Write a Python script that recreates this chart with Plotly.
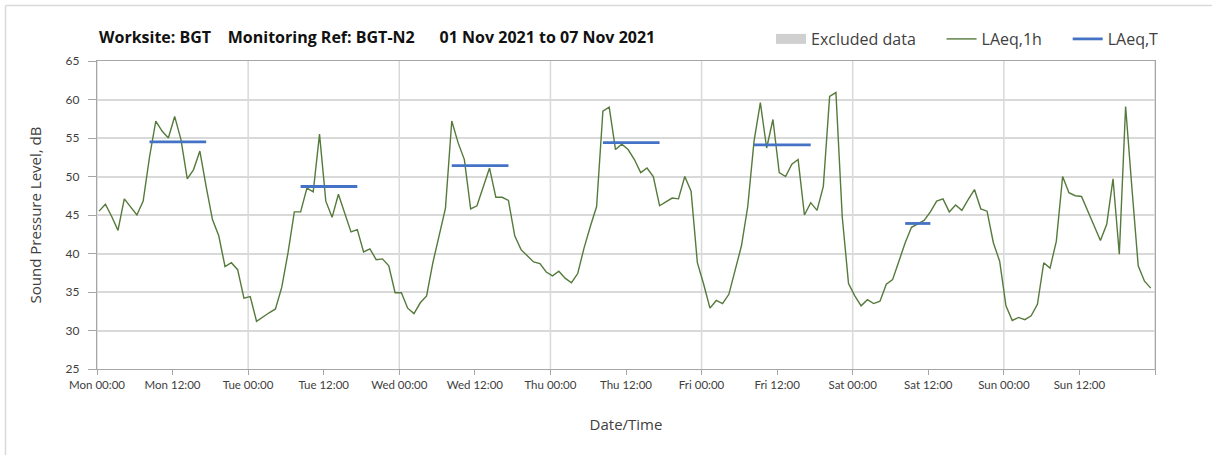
import plotly.graph_objects as go
import pandas as pd

# ---------------- data ----------------
period_start = "2021-11-01 00:00"
n_days = 7
sample_offset_minutes = 20

laeq_1h = [
    45.5, 46.4, 44.8, 43.0, 47.1, 46.1, 45.0, 46.8, 52.5, 57.2, 55.9, 55.0,
    57.8, 54.8, 49.7, 50.9, 53.3, 48.7, 44.4, 42.3, 38.3, 38.8, 37.9, 34.2,
    34.4, 31.2, 31.8, 32.3, 32.8, 35.6, 40.1, 45.4, 45.4, 48.5, 48.0, 55.5,
    46.8, 44.7, 47.7, 45.3, 42.8, 43.1, 40.2, 40.6, 39.2, 39.3, 38.4, 34.9,
    34.9, 32.9, 32.2, 33.6, 34.5, 38.8, 42.5, 45.9, 57.2, 54.4, 52.2, 45.8,
    46.2, 48.7, 51.1, 47.3, 47.3, 46.9, 42.3, 40.5, 39.7, 38.9, 38.7, 37.6,
    37.1, 37.7, 36.8, 36.2, 37.4, 40.7, 43.5, 46.1, 58.5, 59.0, 53.5, 54.2,
    53.5, 52.2, 50.5, 51.1, 50.0, 46.2, 46.7, 47.2, 47.1, 50.0, 48.1, 38.8,
    36.0, 32.9, 33.9, 33.5, 34.7, 37.7, 41.0, 46.1, 54.6, 59.6, 53.7, 57.4,
    50.5, 50.0, 51.6, 52.2, 45.0, 46.6, 45.6, 48.7, 60.4, 60.9, 44.8, 36.1,
    34.5, 33.2, 34.0, 33.5, 33.8, 36.0, 36.6, 39.0, 41.4, 43.4, 43.9, 44.3,
    45.4, 46.8, 47.1, 45.4, 46.3, 45.6, 47.0, 48.3, 45.8, 45.5, 41.4, 39.0,
    33.2, 31.3, 31.7, 31.4, 31.9, 33.4, 38.8, 38.1, 41.6, 50.0, 47.9, 47.5,
    47.4, 45.5, 43.5, 41.7, 43.8, 49.7, 39.9, 59.1, 48.5, 38.4, 36.4, 35.5,
]

# LAeq,T per day (Mon..Sun) and the hour window it is drawn across
laeq_T = [54.5, 48.7, 51.4, 54.4, 54.1, 43.9, None]
laeq_T_first_hour = [8, 8, 8, 8, 8, 8, None]
laeq_T_last_hour = [17, 17, 17, 17, 17, 12, None]

title_parts = ["Worksite: BGT", "Monitoring Ref: BGT-N2", "01 Nov 2021 to 07 Nov 2021"]
y_title = "Sound Pressure Level, dB"
x_title = "Date/Time"
legend_names = ["Excluded data", "LAeq,1h", "LAeq,T"]

# ---------------- build ----------------
t0 = pd.Timestamp(period_start)
t_end = t0 + pd.Timedelta(days=n_days)
times = [t0 + pd.Timedelta(hours=i, minutes=sample_offset_minutes) for i in range(len(laeq_1h))]

bx, by = [], []
for d, v in enumerate(laeq_T):
    if v is None:
        continue
    for h in range(laeq_T_first_hour[d], laeq_T_last_hour[d] + 1):
        idx = d * 24 + h
        bx.append(times[idx])
        by.append(v)
    bx.append(None)
    by.append(None)

tick_times = [t0 + pd.Timedelta(hours=12 * k) for k in range(n_days * 2 + 1)]
tick_text = [t.strftime("%a %H:%M") for t in tick_times[:-1]] + [""]
day_lines = [t0 + pd.Timedelta(days=d) for d in range(n_days + 1)]

W, H = 1212, 455
ML, MR, MT, MB = 97, 57, 61, 86
pw, ph = W - ML - MR, H - MT - MB

FONT = "Open Sans"
TICKFONT = "Lato"
GREEN = "#557a3c"
BLUE = "#4472c4"
GREY_EX = "#d0d0d0"
GRID = "#d9d9d9"
AXIS = "#a6a6a6"
TXT = "#404040"

fig = go.Figure()
fig.add_trace(go.Scatter(
    x=[None], y=[None], mode="lines", name=legend_names[0] + "\u00a0" * 5,
    line=dict(color=GREY_EX, width=10), showlegend=True, hoverinfo="skip"))
fig.add_trace(go.Scatter(
    x=times, y=laeq_1h, mode="lines", name=legend_names[1] + "\u00a0" * 5,
    line=dict(color=GREEN, width=1.4)))
fig.add_trace(go.Scatter(
    x=bx, y=by, mode="lines", name=legend_names[2],
    line=dict(color=BLUE, width=2.8), connectgaps=False))

shapes = []
for t in day_lines:
    shapes.append(dict(type="line", xref="x", yref="paper", x0=t, x1=t, y0=0, y1=1,
                       line=dict(color=GRID, width=1.5), layer="below"))
# outer frame (top and left edges)
fx = (5.5 - ML) / pw
fy = 1 + (MT - 5.5) / ph
shapes.append(dict(type="line", xref="paper", yref="paper", x0=fx, x1=(W + 5 - ML) / pw,
                   y0=fy, y1=fy, line=dict(color="#d9d9d9", width=1.5)))
shapes.append(dict(type="line", xref="paper", yref="paper", x0=fx, x1=fx,
                   y0=fy, y1=-(MB + 5) / ph, line=dict(color="#d9d9d9", width=1.5)))

nb = "\u00a0"
title_text = "<b>" + title_parts[0] + nb * 4 + title_parts[1] + nb * 6 + title_parts[2] + "</b>"

fig.update_layout(
    width=W, height=H,
    margin=dict(l=ML, r=MR, t=MT, b=MB, autoexpand=False),
    paper_bgcolor="white", plot_bgcolor="white",
    font=dict(family=FONT, color=TXT),
    title=dict(text=title_text, x=99 / W, xanchor="left", xref="container",
               y=1 - 37 / H, yanchor="middle", yref="container",
               font=dict(family=FONT, size=16, color="#111111")),
    showlegend=True,
    legend=dict(orientation="h", x=(771 - ML) / pw, xanchor="left",
                y=1 + (MT - 39) / ph, yanchor="middle",
                font=dict(family=FONT, size=16, color=TXT),
                bgcolor="rgba(0,0,0,0)", itemclick=False),
    shapes=shapes,
    xaxis=dict(range=[t0, t_end], type="date",
               tickmode="array", tickvals=tick_times, ticktext=tick_text,
               showgrid=False, zeroline=False,
               showline=True, linecolor=AXIS, linewidth=1.2, mirror=True,
               ticks="outside", ticklen=5, tickcolor=AXIS,
               tickfont=dict(family=TICKFONT, size=11.5, color=TXT),
               title=dict(text=x_title, font=dict(family=FONT, size=15, color=TXT), standoff=29)),
    yaxis=dict(range=[25, 65], dtick=5, tick0=25,
               showgrid=True, gridcolor=GRID, gridwidth=1.5, zeroline=False,
               showline=True, linecolor=AXIS, linewidth=1.2, mirror=True,
               ticks="outside", ticklen=8, tickcolor=AXIS, ticklabelstandoff=6,
               tickfont=dict(family=TICKFONT, size=12, color=TXT),
               title=dict(text=y_title, font=dict(family=FONT, size=15, color=TXT), standoff=20)),
)

fig.write_html("out.html", config={"displayModeBar": False},
               post_script="document.body.style.margin='0';document.body.style.overflow='hidden';")
